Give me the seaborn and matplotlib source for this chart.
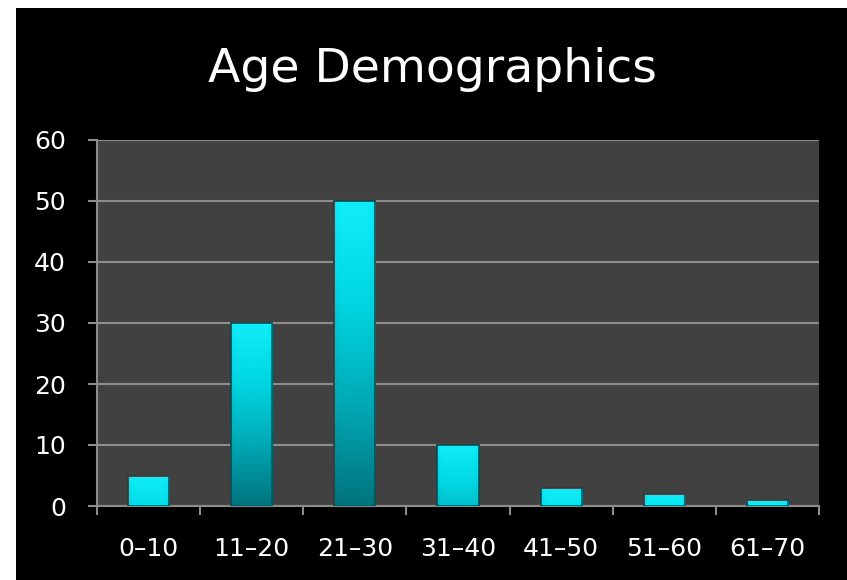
import numpy as np
import pandas as pd
import matplotlib
matplotlib.use("Agg")
import matplotlib.pyplot as plt
from matplotlib.patches import Rectangle
from matplotlib.colors import LinearSegmentedColormap
import seaborn as sns

# Age group counts
age_groups = ["0–10", "11–20", "21–30", "31–40", "41–50", "51–60", "61–70"]
counts = [5, 30, 50, 10, 3, 2, 1]
y_ticks = [0, 10, 20, 30, 40, 50, 60]

title = "Age Demographics"

sns.set_theme(style="dark")
plt.rcParams["font.family"] = ["DejaVu Sans"]

W, H, DPI = 847, 580, 100
fig = plt.figure(figsize=(W / DPI, H / DPI), dpi=DPI)
fig.patch.set_facecolor("white")
# black slide background with a thin white margin on the left and top
fig.add_artist(Rectangle((16 / W, 0), 1 - 16 / W, 1 - 8 / H,
                         transform=fig.transFigure, facecolor="black",
                         edgecolor="none", zorder=-10))

ax = fig.add_axes([97 / W, 1 - 506 / H, (819 - 97) / W, (506 - 140) / H])
ax.set_facecolor("#414141")

df = pd.DataFrame({"group": age_groups, "count": counts})
sns.barplot(data=df, x="group", y="count", ax=ax, width=0.4,
            color="#00c8d4", edgecolor="#0b4d52", linewidth=1.2,
            saturation=1, zorder=3)

# cyan glossy gradient fill inside each bar
cmap = LinearSegmentedColormap.from_list(
    "cyan", ["#00747e", "#00a9b5", "#00d6e2", "#10eefa"])
for patch in ax.patches:
    x0, y0 = patch.get_x(), patch.get_y()
    w, h = patch.get_width(), patch.get_height()
    if h <= 0:
        continue
    vert = np.linspace(0, 1, 200)[:, None]
    horiz = np.linspace(-1, 1, 60)[None, :]
    # short bars stay mostly bright, tall bars fade to dark teal at the base
    base = max(0.0, 1 - h / 20)
    shade = (base + (1 - base) * vert) * (1 - 0.12 * horiz ** 6)
    img = ax.imshow(shade, cmap=cmap, vmin=0, vmax=1, origin="lower",
                    extent=(x0, x0 + w, y0, y0 + h), aspect="auto",
                    zorder=3.5, interpolation="bilinear")
    img.set_clip_path(patch)
    outline = Rectangle((x0, y0), w, h, facecolor="none",
                        edgecolor="#0b4d52", linewidth=1.2, zorder=4)
    ax.add_patch(outline)

ax.set_xlim(-0.5, len(age_groups) - 0.5)
ax.set_ylim(0, 60)
ax.set_yticks(y_ticks)
ax.set_yticklabels([str(v) for v in y_ticks])
ax.grid(axis="y", color="#8c8c8c", linewidth=1.5, zorder=1)
ax.grid(axis="x", visible=False)
ax.set_axisbelow(True)

# tick marks at the category boundaries, labels at the centres
ax.set_xticks(np.arange(-0.5, len(age_groups)), minor=True)
ax.tick_params(axis="x", which="minor", length=6.5, width=1.5,
               color="#8c8c8c", direction="out", bottom=True)
ax.tick_params(axis="x", which="major", length=0, pad=22,
               labelsize=18, labelcolor="white")
ax.tick_params(axis="y", which="major", length=6.5, width=1.5,
               color="#8c8c8c", direction="out", left=True, pad=16,
               labelsize=18, labelcolor="white")

for side in ["top", "right"]:
    ax.spines[side].set_visible(False)
for side in ["left", "bottom"]:
    ax.spines[side].set_visible(True)
    ax.spines[side].set_color("#8c8c8c")
    ax.spines[side].set_linewidth(1.5)

ax.set_xlabel("")
ax.set_ylabel("")

fig.text(432 / W, 1 - 70 / H, title, ha="center", va="center",
         color="white", fontsize=34)

fig.savefig("out.png", dpi=DPI, facecolor=fig.get_facecolor())
